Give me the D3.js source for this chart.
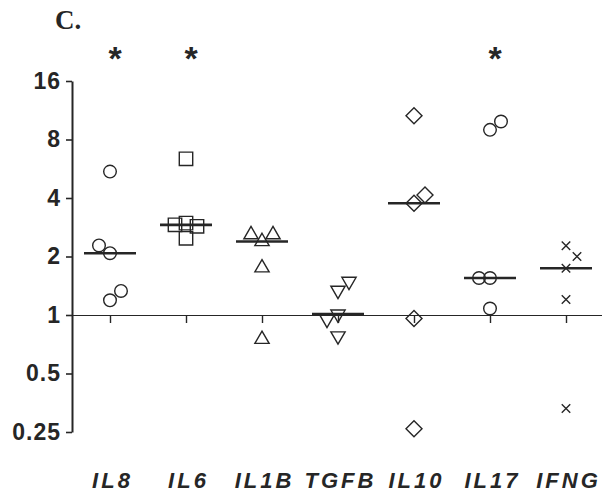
<!DOCTYPE html>
<html>
<head>
<meta charset="utf-8">
<script src="https://cdn.jsdelivr.net/npm/d3@7"></script>
<style>
  html, body { margin: 0; padding: 0; background: #fff; }
  svg { display: block; }
</style>
</head>
<body>
<svg id="chart" width="602" height="498"></svg>
<script>
// Fold change per gene, one value per sample
const categories = ["IL8", "IL6", "IL1B", "TGFB", "IL10", "IL17", "IFNG"];
const il8  = [5.47, 1.19, 1.33, 2.08, 2.28];
const il6  = [6.36, 2.48, 2.97, 2.86, 2.91];
const il1b = [2.39, 2.59, 2.59, 1.75, 0.75];
const tgfb = [1.34, 1.49, 1.01, 0.95, 0.78];
const il10 = [10.6, 3.76, 4.15, 0.96, 0.26];
const il17 = [8.97, 9.9, 1.55, 1.55, 1.08];
const ifng = [2.27, 2.0, 1.74, 1.2, 0.33];
const yTicks = [0.25, 0.5, 1, 2, 4, 8, 16];
const significant = ["IL8", "IL6", "IL17"];
const panelLabel = "C.";

const seriesByGene = {
  IL8: il8, IL6: il6, IL1B: il1b, TGFB: tgfb, IL10: il10, IL17: il17, IFNG: ifng
};

const ink = "#262626";
const svg = d3.select("#chart");

const y = d3.scaleLog().base(2).domain([0.25, 16]).range([432, 81]);
const x = d3.scalePoint().domain(categories).range([72, 604]).padding(0.5);

// Marker shapes for each gene
const timesSymbol = {
  draw(ctx, size) {
    const r = Math.sqrt(size) / 2;
    ctx.moveTo(-r, -r); ctx.lineTo(r, r);
    ctx.moveTo(-r, r); ctx.lineTo(r, -r);
  }
};
const markerStyle = {
  IL8:  { type: d3.symbolCircle,   size: 125, rotate: 0 },
  IL6:  { type: d3.symbolSquare,   size: 180, rotate: 0 },
  IL1B: { type: d3.symbolTriangle, size: 88,  rotate: 0 },
  TGFB: { type: d3.symbolTriangle, size: 88,  rotate: 180 },
  IL10: { type: d3.symbolSquare,   size: 128, rotate: 45 },
  IL17: { type: d3.symbolCircle,   size: 125, rotate: 0 },
  IFNG: { type: timesSymbol,       size: 72,  rotate: 0 }
};

// Simple column scatter: points that would overlap are pushed sideways,
// alternating right and left within each column.
const slot = 11, minGap = 14;
const points = [];
categories.forEach(cat => {
  const placed = [];
  let flips = 0;
  seriesByGene[cat].forEach(v => {
    const py = y(v);
    const clash = k => placed.some(p => p.k === k && Math.abs(p.py - py) < minGap);
    let k = 0;
    if (clash(0)) {
      const order = flips % 2 === 0 ? [1, -1, 2, -2] : [-1, 1, -2, 2];
      flips++;
      k = order.find(c => !clash(c));
    }
    placed.push({ k, py });
    points.push({ cat, value: v, px: x(cat) + k * slot, py });
  });
});

// Reference line at fold change 1 with column ticks
const xAxis = d3.axisBottom(x).tickSize(8).tickSizeOuter(0).tickFormat("");
const gx = svg.append("g")
  .attr("transform", `translate(0,${y(1)})`)
  .call(xAxis);
gx.select(".domain").attr("stroke", ink).attr("stroke-width", 1.1);
gx.selectAll(".tick line").attr("stroke", ink).attr("stroke-width", 1.4);

// Y axis
const yAxis = d3.axisLeft(y).tickValues(yTicks).tickFormat(d => String(d))
  .tickSize(6).tickSizeOuter(0).tickPadding(5);
const gy = svg.append("g").attr("transform", "translate(72,0)").call(yAxis);
gy.select(".domain").attr("stroke", ink).attr("stroke-width", 2);
gy.selectAll(".tick line").attr("stroke", ink).attr("stroke-width", 1.6);
gy.selectAll(".tick text")
  .attr("fill", ink)
  .style("font-family", "'Liberation Sans', Arial, sans-serif")
  .style("font-weight", "bold")
  .style("font-size", "23px")
  .style("letter-spacing", "1px");

// Medians
svg.append("g").selectAll("line")
  .data(categories)
  .join("line")
  .attr("x1", d => x(d) - 26)
  .attr("x2", d => x(d) + 26)
  .attr("y1", d => y(d3.median(seriesByGene[d])))
  .attr("y2", d => y(d3.median(seriesByGene[d])))
  .attr("stroke", ink)
  .attr("stroke-width", 2.6);

// Sample markers
svg.append("g").selectAll("path")
  .data(points)
  .join("path")
  .attr("d", d => d3.symbol(markerStyle[d.cat].type, markerStyle[d.cat].size)())
  .attr("transform", d => `translate(${d.px},${d.py}) rotate(${markerStyle[d.cat].rotate})`)
  .attr("fill", "none")
  .attr("stroke", ink)
  .attr("stroke-width", 1.4);

// Gene names
svg.append("g").selectAll("text")
  .data(categories)
  .join("text")
  .attr("x", d => x(d) + 2.5)
  .attr("y", 488)
  .attr("text-anchor", "middle")
  .attr("fill", ink)
  .style("font-family", "'Liberation Sans', Arial, sans-serif")
  .style("font-weight", "bold")
  .style("font-style", "italic")
  .style("font-size", "22px")
  .style("letter-spacing", "3px")
  .text(d => d);

// Significance marks
svg.append("g").selectAll("text")
  .data(significant)
  .join("text")
  .attr("x", d => x(d) + 5)
  .attr("y", 70)
  .attr("text-anchor", "middle")
  .attr("fill", ink)
  .style("font-family", "'Liberation Sans', Arial, sans-serif")
  .style("font-weight", "bold")
  .style("font-size", "34px")
  .text("*");

// Panel letter
svg.append("text")
  .attr("x", 55)
  .attr("y", 29)
  .attr("fill", ink)
  .style("font-family", "'Liberation Serif', 'Times New Roman', serif")
  .style("font-weight", "bold")
  .style("font-size", "27px")
  .text(panelLabel);
</script>
</body>
</html>
